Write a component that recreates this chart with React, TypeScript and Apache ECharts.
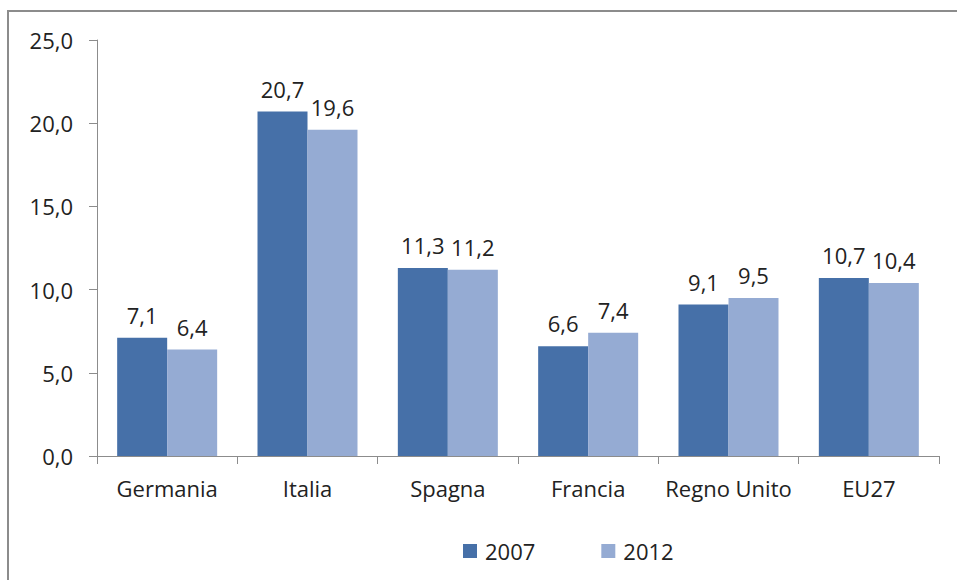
import React, { useEffect, useRef } from "react";
import * as echarts from "echarts";

const categories = ["Germania", "Italia", "Spagna", "Francia", "Regno Unito", "EU27"];
const values2007 = [7.1, 20.7, 11.3, 6.6, 9.1, 10.7];
const values2012 = [6.4, 19.6, 11.2, 7.4, 9.5, 10.4];
const seriesNames = ["2007", "2012"];

const FONT = "'Open Sans', 'Noto Sans', sans-serif";
const FS = 22;
const fmt = (v: number) => v.toFixed(1).replace(".", ",");

export default function App() {
  const ref = useRef<HTMLDivElement>(null);
  useEffect(() => {
    if (!ref.current) return;
    const chart = echarts.init(ref.current, undefined, { renderer: "svg" });
    const label = {
      show: true,
      position: "top" as const,
      distance: 12,
      fontFamily: FONT,
      fontSize: FS,
      color: "#222",
      formatter: (p: any) => fmt(p.value),
    };
    chart.setOption({
      animation: false,
      backgroundColor: "#fff",
      textStyle: { fontFamily: FONT },
      graphic: [
        {
          type: "rect",
          shape: { x: 8, y: 11, width: 980, height: 600 },
          style: { fill: "none", stroke: "#8c8c8c", lineWidth: 2 },
          silent: true,
        },
      ],
      grid: { left: 97, right: 18, top: 40, bottom: 124 },
      legend: {
        left: 458,
        top: 535,
        itemWidth: 14,
        itemHeight: 14,
        itemGap: 66,
        icon: "rect",
        textStyle: { fontFamily: FONT, fontSize: FS, color: "#222", padding: [0, 0, 0, 3] },
        data: seriesNames,
      },
      xAxis: {
        type: "category",
        data: categories,
        axisLine: { lineStyle: { color: "#8c8c8c", width: 1 } },
        axisTick: { show: true, length: 8, lineStyle: { color: "#8c8c8c" } },
        axisLabel: { fontFamily: FONT, fontSize: FS, color: "#222", margin: 21, interval: 0 },
      },
      yAxis: {
        type: "value",
        min: 0,
        max: 25,
        interval: 5,
        axisLine: { show: true, lineStyle: { color: "#8c8c8c", width: 1 } },
        axisTick: { show: true, length: 8, lineStyle: { color: "#8c8c8c" } },
        splitLine: { show: false },
        axisLabel: {
          fontFamily: FONT,
          fontSize: FS,
          color: "#222",
          margin: 24,
          formatter: (v: number) => fmt(v),
        },
      },
      series: [
        {
          name: seriesNames[0],
          type: "bar",
          data: values2007,
          barWidth: 50,
          barGap: "0%",
          itemStyle: { color: "#4670A8" },
          label,
        },
        {
          name: seriesNames[1],
          type: "bar",
          data: values2012,
          barWidth: 50,
          barGap: "0%",
          itemStyle: { color: "#95ABD3" },
          label,
        },
      ],
    });
    return () => chart.dispose();
  }, []);
  return (
    <div
      ref={ref}
      style={{ position: "fixed", left: 0, top: 0, width: 957, height: 580 }}
    />
  );
}
